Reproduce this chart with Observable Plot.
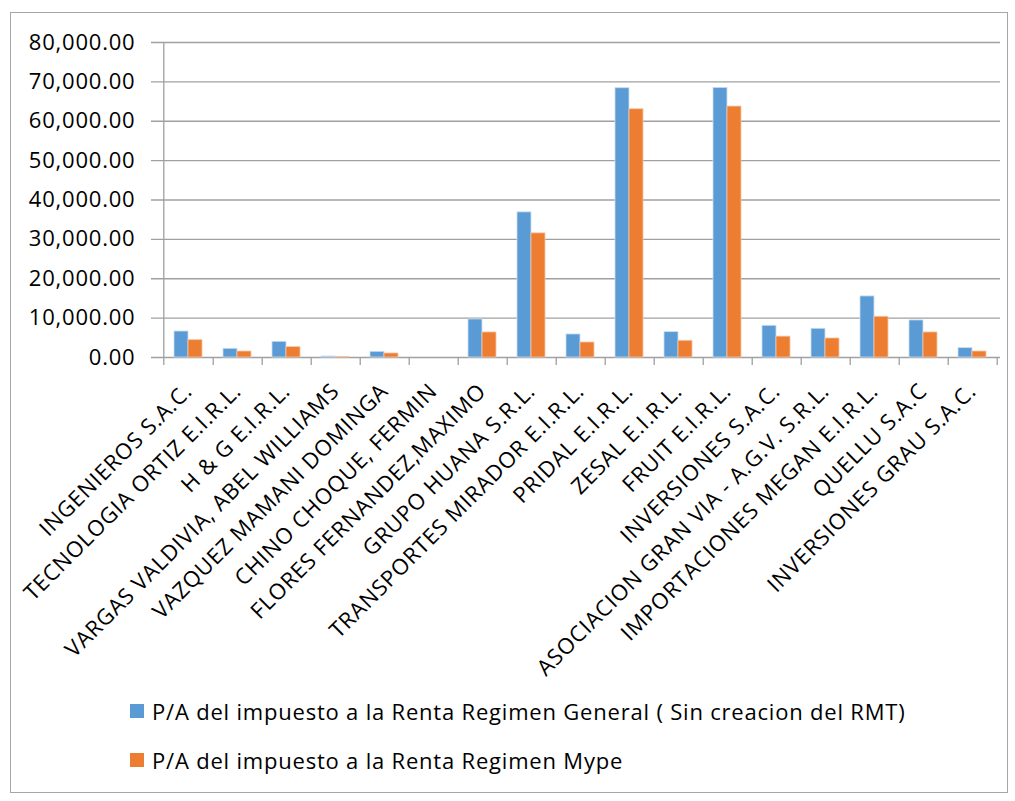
<!DOCTYPE html>
<html><head><meta charset="utf-8">
<script src="https://cdn.jsdelivr.net/npm/d3@7"></script>
<script src="https://cdn.jsdelivr.net/npm/@observablehq/plot@0.6"></script>
<style>
body{margin:0;background:#fff;font-family:"Open Sans",sans-serif;}
#frame{position:absolute;left:10px;top:12px;width:998px;height:781px;border:1px solid #a6a6a6;box-sizing:border-box;}
#chart{position:absolute;left:0;top:0;}
#legend{position:absolute;left:130px;top:686px;font-size:22px;letter-spacing:0.8px;color:#000;}
.item{display:flex;align-items:center;height:49px;white-space:nowrap;}
.sw{width:14px;height:14px;margin-right:8px;flex:none;}
</style></head><body>
<div id="frame"></div><div id="chart"></div><div id="legend"></div>
<script>
const companies = [
  "INGENIEROS S.A.C.",
  "TECNOLOGIA ORTIZ E.I.R.L.",
  "H & G E.I.R.L.",
  "VARGAS VALDIVIA, ABEL WILLIAMS",
  "VAZQUEZ MAMANI DOMINGA",
  "CHINO CHOQUE, FERMIN",
  "FLORES FERNANDEZ,MAXIMO",
  "GRUPO HUANA S.R.L.",
  "TRANSPORTES MIRADOR E.I.R.L.",
  "PRIDAL E.I.R.L.",
  "ZESAL E.I.R.L.",
  "FRUIT E.I.R.L.",
  "INVERSIONES S.A.C.",
  "ASOCIACION GRAN VIA - A.G.V. S.R.L.",
  "IMPORTACIONES MEGAN E.I.R.L.",
  "QUELLU S.A.C",
  "INVERSIONES GRAU S.A.C."
];
const general = [6600, 2200, 3980, 250, 1440, 0, 9660, 36860, 5850, 68390, 6440, 68470, 8050, 7290, 15510, 9410, 2370];
const mype    = [4400, 1520, 2630, 170, 1020, 0, 6360, 31520, 3810, 63050, 4240, 63730, 5300, 4830, 10340, 6360, 1520];
const seriesNames = [
  "P/A del impuesto a la Renta Regimen General ( Sin creacion del RMT)",
  "P/A del impuesto a la Renta Regimen Mype"
];
const colors = ["#5B9BD5", "#ED7D31"];
const yTicks = [0, 10000, 20000, 30000, 40000, 50000, 60000, 70000, 80000];

const rows = companies.map((c, i) => ({company: c, general: general[i], mype: mype[i]}));

const W = 1015, H = 680, mL = 160, mR = 15, mT = 42, mB = 323;
const step = (W - mL - mR) / companies.length;
const half = step / 2;
const pInner = 0.433;
const bw = step * (1 - pInner);

const chart = Plot.plot({
  width: W, height: H,
  marginLeft: mL, marginRight: mR, marginTop: mT, marginBottom: mB,
  style: {fontFamily: "'Open Sans', sans-serif", letterSpacing: "0.8px", background: "transparent", overflow: "visible"},
  x: {domain: companies, paddingInner: pInner, paddingOuter: pInner / 2, axis: null},
  y: {domain: [0, 80000], axis: null},
  marks: [
    Plot.ruleY(yTicks, {stroke: "#a0a0a0", strokeWidth: 1.3, insetLeft: -9}),
    Plot.ruleX([companies[0]], {y1: 0, y2: 80000, insetTop: 8, dx: -half, stroke: "#a0a0a0", strokeWidth: 1.3}),
    Plot.ruleX(companies, {y1: 0, y2: 0, insetTop: 8, dx: half, stroke: "#a0a0a0", strokeWidth: 1.3}),
    Plot.barY(rows, {x: "company", y: "general", fill: colors[0], insetRight: bw / 2, stroke: "#c8dcf0", strokeWidth: 0.8}),
    Plot.barY(rows, {x: "company", y: "mype", fill: colors[1], insetLeft: bw / 2, stroke: "#f7c4a4", strokeWidth: 0.8}),
    Plot.axisY({ticks: yTicks, tickFormat: d3.format(",.2f"), tickSize: 0, tickPadding: 25, fontSize: 22, fill: "#000"}),
    Plot.text(companies, {x: d => d, frameAnchor: "bottom", rotate: -45, textAnchor: "end", lineAnchor: "middle", dx: 0, dy: 30, fontSize: 22, fill: "#000"})
  ]
});
document.getElementById("chart").appendChild(chart);

const legend = document.getElementById("legend");
seriesNames.forEach((name, i) => {
  const item = document.createElement("div");
  item.className = "item";
  const sw = document.createElement("span");
  sw.className = "sw";
  sw.style.background = colors[i];
  const t = document.createElement("span");
  t.textContent = name;
  item.appendChild(sw);
  item.appendChild(t);
  legend.appendChild(item);
});
</script>
</body></html>
